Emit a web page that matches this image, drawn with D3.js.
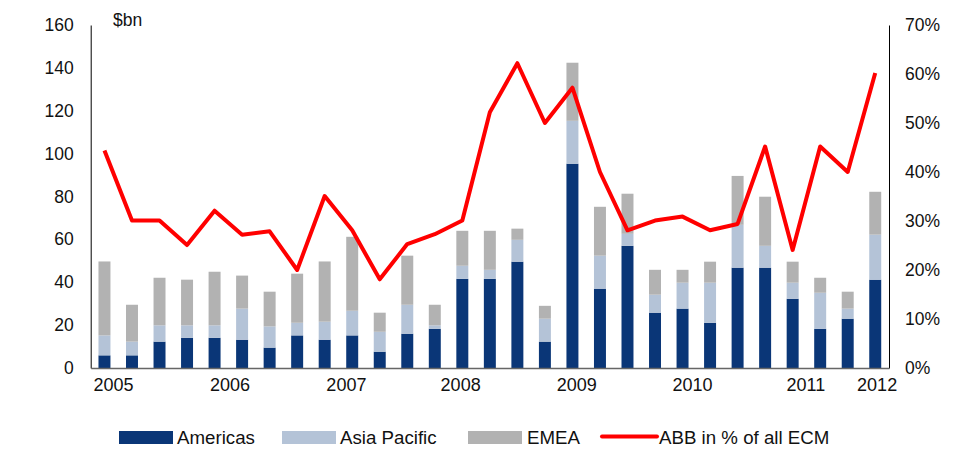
<!DOCTYPE html>
<html><head><meta charset="utf-8">
<script src="https://cdn.jsdelivr.net/npm/d3@7"></script>
<style>body{margin:0;background:#fff}svg{display:block;font-family:"Liberation Sans",Arial,sans-serif}</style>
</head><body><svg id="c" width="958" height="450"></svg>
<script>
const categories = ["2005 Q1","2005 Q2","2005 Q3","2005 Q4","2006 Q1","2006 Q2","2006 Q3","2006 Q4",
  "2007 Q1","2007 Q2","2007 Q3","2007 Q4","2008 Q1","2008 Q2","2008 Q3","2008 Q4",
  "2009 Q1","2009 Q2","2009 Q3","2009 Q4","2010 Q1","2010 Q2","2010 Q3","2010 Q4",
  "2011 Q1","2011 Q2","2011 Q3","2011 Q4","2012 Q1"];
const americas    = [5.9,5.9,12.3,14.1,14.1,13.2,9.5,15.2,13.2,15.2,7.6,16.0,18.3,41.6,41.6,49.6,12.3,95.3,37.0,57.0,25.8,27.7,21.1,46.8,46.8,32.3,18.3,23.0,41.2];
const asiaPacific = [9.3,6.4,7.6,5.8,5.8,14.5,9.9,5.9,8.4,11.5,9.3,13.5,1.6,6.1,4.2,10.2,10.7,20.0,15.4,5.6,8.4,12.1,18.7,20.0,10.2,7.5,16.8,4.7,21.0];
const emea        = [34.5,17.2,22.2,21.3,25.0,15.4,16.2,22.9,28.1,34.5,8.9,22.9,9.6,16.3,18.2,5.2,6.0,27.1,22.8,18.7,11.6,6.0,9.8,22.8,22.9,9.8,7.0,7.9,20.0];
const abbShare    = [44.4,30.1,30.1,25.1,32.1,27.2,27.9,20.0,35.1,28.1,18.1,25.3,27.3,30.1,52.2,62.2,50.0,57.2,40.0,28.1,30.1,30.9,28.1,29.4,45.2,24.1,45.2,40.0,60.2];
const yearLabels  = ["2005","2006","2007","2008","2009","2010","2011","2012"];
const yearLabelAt = [0.31,4.54,8.77,12.92,17.14,21.34,25.46,28.05]; // in category-index units
const leftTicks   = [0,20,40,60,80,100,120,140,160];
const rightTicks  = [0,10,20,30,40,50,60,70];
const seriesNames = ["Americas","Asia Pacific","EMEA"];
const lineName    = "ABB in % of all ECM";

const colors = ["#0a3677","#b4c3d7","#b2b2b2"];
const svg = d3.select("#c");
const L = 90.7, R = 889, T = 25, B = 368;

const x = d3.scaleBand().domain(categories).range([L, R]).paddingInner(0.565).paddingOuter(0.2825);
const xi = d3.scaleLinear().domain([-0.5, categories.length - 0.5]).range([L, R]);
const y = d3.scaleLinear().domain([0, 160]).range([B, T]);
const y2 = d3.scaleLinear().domain([0, 70]).range([B, T]);

const rows = categories.map((c, i) => ({cat: c, s0: americas[i], s1: asiaPacific[i], s2: emea[i]}));
const stack = d3.stack().keys(["s0","s1","s2"])(rows);

svg.append("g").selectAll("g").data(stack).join("g")
  .attr("fill", (d, i) => colors[i])
  .selectAll("rect").data(d => d).join("rect")
  .attr("x", d => x(d.data.cat))
  .attr("width", x.bandwidth())
  .attr("y", d => y(d[1]))
  .attr("height", d => y(d[0]) - y(d[1]));

// axes
const fs = "17.5px";
const yAx = svg.append("g").attr("transform", `translate(${L},0)`)
  .call(d3.axisLeft(y).tickValues(leftTicks).tickSize(0).tickPadding(17));
yAx.select(".domain").attr("stroke", "#000");
yAx.selectAll("text").attr("font-size", fs).attr("fill", "#111").attr("font-family", "Liberation Sans, Arial");

const y2Ax = svg.append("g").attr("transform", `translate(${R},0)`)
  .call(d3.axisRight(y2).tickValues(rightTicks).tickSize(0).tickPadding(16).tickFormat(d => d + "%"));
y2Ax.select(".domain").attr("stroke", "#000");
y2Ax.selectAll("text").attr("font-size", fs).attr("fill", "#111").attr("font-family", "Liberation Sans, Arial");

const xAx = svg.append("g").attr("transform", `translate(0,${B})`)
  .call(d3.axisBottom(xi).tickValues(yearLabelAt).tickSize(0).tickPadding(10)
    .tickFormat((d, i) => yearLabels[i]));
xAx.select(".domain").attr("stroke", "#666").attr("stroke-width", 1.3);
xAx.selectAll("text").attr("font-size", "18px").attr("fill", "#111").attr("font-family", "Liberation Sans, Arial");

svg.append("text").attr("x", 113).attr("y", 26).attr("font-size", "17.5px").attr("fill", "#111").text("$bn");

// line
const line = d3.line().x((d, i) => x(categories[i]) + x.bandwidth() / 2).y(d => y2(d));
svg.append("path").datum(abbShare).attr("d", line)
  .attr("fill", "none").attr("stroke", "#ff0000").attr("stroke-width", 4).attr("stroke-linejoin", "round");

// legend
const lg = svg.append("g").attr("font-size", "18.7px").attr("fill", "#111");
const sw = [[119, 177], [282, 340], [468, 527]];
seriesNames.forEach((n, i) => {
  lg.append("rect").attr("x", sw[i][0]).attr("y", 431).attr("width", 54).attr("height", 13).attr("fill", colors[i]);
  lg.append("text").attr("x", sw[i][1]).attr("y", 443.5).text(n);
});
lg.append("line").attr("x1", 602).attr("x2", 657).attr("y1", 436.5).attr("y2", 436.5)
  .attr("stroke", "#ff0000").attr("stroke-width", 4).attr("stroke-linecap", "round");
lg.append("text").attr("x", 659).attr("y", 443.5).text(lineName);
</script></body></html>
